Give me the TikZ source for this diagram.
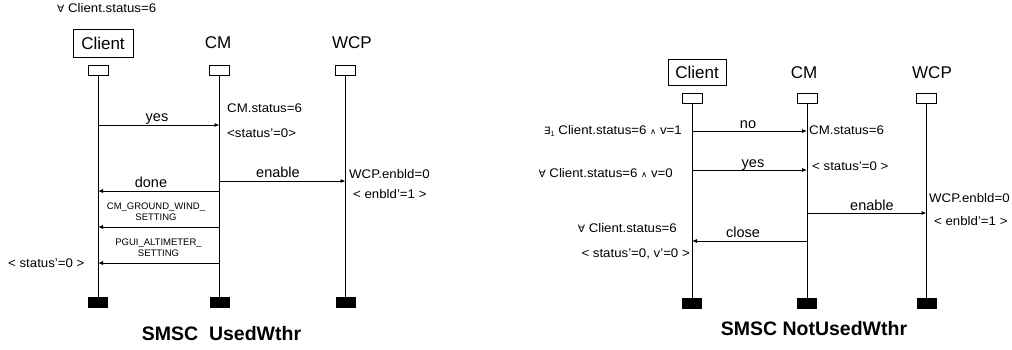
\documentclass[tikz,border=0pt]{standalone}
\usepackage{fontspec}
\setmainfont{Liberation Sans}
\newfontfamily\symfont{DejaVu Sans}
\usetikzlibrary{arrows.meta}
% logic symbols taken from DejaVu Sans
\newcommand\forallsym{{\symfont\fontsize{10}{10}\selectfont ∀}}
\newcommand\existsone{{\symfont\fontsize{10}{10}\selectfont ∃}\raisebox{-2pt}{\fontsize{7}{7}\selectfont 1}}
\newcommand\andsym{{\symfont\fontsize{8}{8}\selectfont ∧}}
\begin{document}
\begin{tikzpicture}[x=1pt,y=-1pt,
  head/.style={font=\fontsize{17}{19}\selectfont, inner sep=0pt},
  actor/.style={head, draw, line width=0.9pt, minimum width=60pt, minimum height=28pt},
  topbox/.style={draw, fill=white, line width=0.9pt, minimum width=20pt, minimum height=10pt, inner sep=0pt},
  endbox/.style={fill=black, minimum width=20pt, minimum height=11pt, inner sep=0pt},
  life/.style={line width=0.9pt},
  msg/.style={line width=0.8pt, -{Latex[length=5pt,width=4pt]}},
  lbl/.style={font=\fontsize{14.5}{16}\selectfont, inner sep=0pt, text height=7pt, text depth=0pt},
  small/.style={font=\fontsize{12.5}{14}\selectfont, xscale=1.06, inner sep=0pt, text height=9pt, text depth=0pt},
  tiny/.style={font=\fontsize{9.5}{11}\selectfont, inner sep=0pt, text height=7pt, text depth=0pt},
  title/.style={font=\fontsize{19.5}{22}\selectfont\bfseries, inner sep=0pt}]
\useasboundingbox (0,0) rectangle (1012,349);

%% ---------- SMSC UsedWthr ----------
\node[small, anchor=west] (lpre) at (57,8) {\forallsym\ Client.status=6};
\node[actor] (lClient) at (103,43) {Client};
\node[head] (lCM) at (218,43) {CM};
\node[head] (lWCP) at (352,43) {WCP};

\node[topbox] (lt1) at (98,70) {};
\node[topbox] (lt2) at (219.5,70) {};
\node[topbox] (lt3) at (345.5,70) {};
\node[endbox] (lb1) at (98,302.5) {};
\node[endbox] (lb2) at (219.5,302.5) {};
\node[endbox] (lb3) at (345.5,302.5) {};
\draw[life] (lt1) -- (lb1);
\draw[life] (lt2) -- (lb2);
\draw[life] (lt3) -- (lb3);

\node[small, anchor=west] (lcms) at (227,108) {CM.status=6};
\node[lbl] (lyes) at (157,118) {yes};
\draw[msg] (lt1 |- 0,125) -- (lt2 |- 0,125);
\node[small, anchor=west] (lst) at (227,133) {<status'=0>};

\node[lbl] (lenable) at (278,174) {enable};
\draw[msg] (lt2 |- 0,181) -- (lt3 |- 0,181);
\node[small, anchor=west] (lwcp) at (349,174) {WCP.enbld=0};
\node[small, anchor=west] (lenb) at (353,194) {< enbld'=1 >};

\node[lbl] (ldone) at (151,184) {done};
\draw[msg] (lt2 |- 0,191) -- (lt1 |- 0,191);

\node[tiny] (lcg1) at (156,206) {CM\_GROUND\_WIND\_};
\node[tiny] (lcg2) at (156,217) {SETTING};
\draw[msg] (lt2 |- 0,227) -- (lt1 |- 0,227);

\node[tiny] (lpa1) at (158.5,242) {PGUI\_ALTIMETER\_};
\node[tiny] (lpa2) at (158.5,253) {SETTING};
\draw[msg] (lt2 |- 0,263) -- (lt1 |- 0,263);
\node[small, anchor=west] (lpost) at (8,263) {< status'=0 >};

\node[title] (ltitle) at (221.5,334) {SMSC\ \ UsedWthr};

%% ---------- SMSC NotUsedWthr ----------
\node[actor, minimum width=58pt, minimum height=26pt] (rClient) at (697,72) {Client};
\node[head] (rCM) at (804,73) {CM};
\node[head] (rWCP) at (932,73) {WCP};

\node[topbox] (rt1) at (692,98.5) {};
\node[topbox] (rt2) at (807,98.5) {};
\node[topbox] (rt3) at (926.5,98.5) {};
\node[endbox] (rb1) at (692,303.5) {};
\node[endbox] (rb2) at (807,303.5) {};
\node[endbox] (rb3) at (926.5,303.5) {};
\draw[life] (rt1) -- (rb1);
\draw[life] (rt2) -- (rb2);
\draw[life] (rt3) -- (rb3);

\node[lbl] (rno) at (748,125) {no};
\draw[msg] (rt1 |- 0,131) -- (rt2 |- 0,131);
\node[small, anchor=east] (rex) at (682,130) {\existsone\ Client.status=6 \andsym\ v=1};
\node[small, anchor=west] (rcms) at (809,130) {CM.status=6};

\node[lbl] (ryes) at (753,164) {yes};
\draw[msg] (rt1 |- 0,170) -- (rt2 |- 0,170);
\node[small, anchor=east] (rfa) at (673,173) {\forallsym\ Client.status=6 \andsym\ v=0};
\node[small, anchor=west] (rst) at (812,166) {< status'=0 >};

\node[lbl] (renable) at (872,207) {enable};
\draw[msg] (rt2 |- 0,213) -- (rt3 |- 0,213);
\node[small, anchor=west] (rwcp) at (929,198) {WCP.enbld=0};
\node[small, anchor=west] (renb) at (934,221) {< enbld'=1 >};

\node[lbl] (rclose) at (743,234) {close};
\draw[msg] (rt2 |- 0,241) -- (rt1 |- 0,241);
\node[small, anchor=east] (rfa2) at (677,228) {\forallsym\ Client.status=6};
\node[small, anchor=east] (rpost) at (690,253) {< status'=0, v'=0 >};

\node[title] (rtitle) at (814,329) {SMSC NotUsedWthr};
\end{tikzpicture}
\end{document}
